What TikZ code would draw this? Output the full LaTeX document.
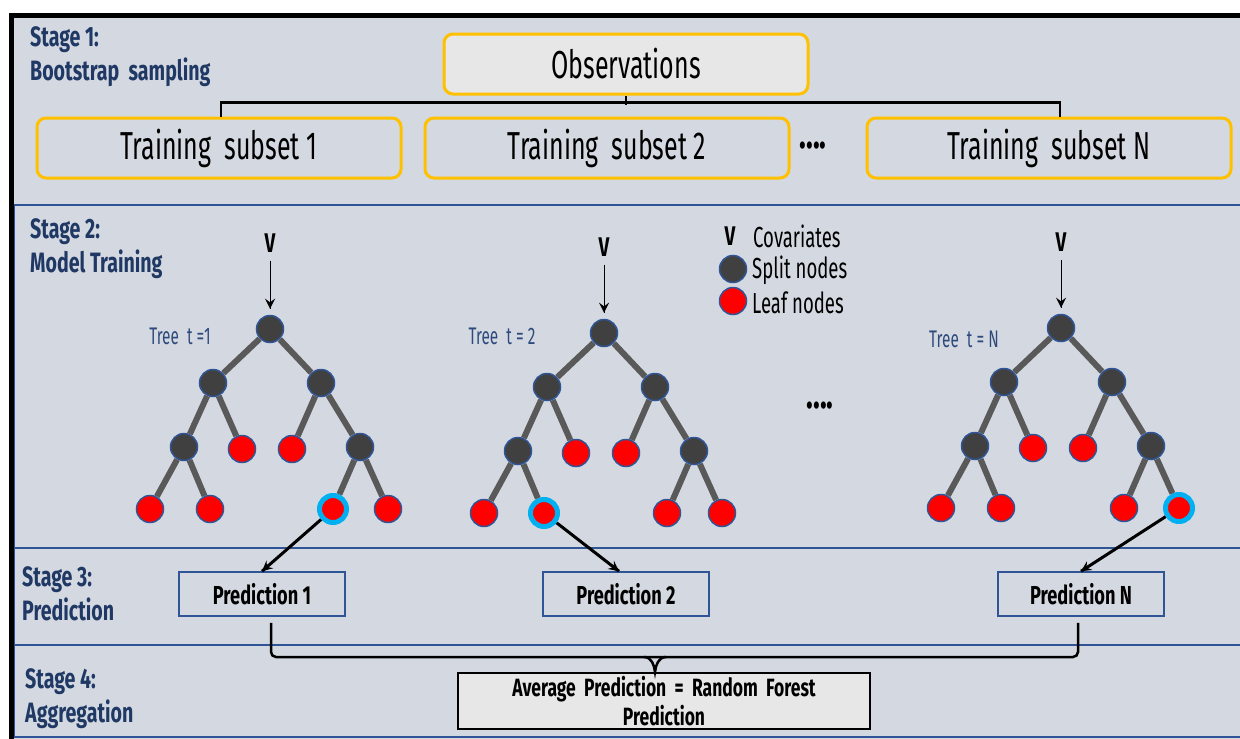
\documentclass[tikz,border=0pt]{standalone}
\usepackage{fontspec}
\setmainfont{Fira Sans}[FakeStretch=0.64,BoldFeatures={FakeStretch=0.7}]
\usepackage{tikz}
\usetikzlibrary{arrows,decorations.markings}
\definecolor{bgblue}{HTML}{D4D9E1}
\definecolor{stagenavy}{HTML}{1F3864}
\definecolor{stageblue}{HTML}{2F5597}
\definecolor{boxorange}{HTML}{FFC000}
\definecolor{obsgrey}{HTML}{E7E7E7}
\definecolor{splitgrey}{HTML}{404040}
\definecolor{edgegrey}{HTML}{595959}
\definecolor{ringcyan}{HTML}{00B0F0}
\definecolor{treenavy}{HTML}{2E4A7D}
\tikzstyle{stagelabel} = [anchor=base west, align=left, inner sep=0pt, text=stagenavy, font=\bfseries\fontsize{28}{34}\selectfont]
\tikzstyle{obsbox} = [rectangle, rounded corners=9pt, minimum width=364pt, minimum height=60pt, draw=boxorange, line width=3pt, fill=obsgrey, font=\fontsize{39}{40}\selectfont]
\tikzstyle{subset} = [obsbox, fill=bgblue]
\tikzstyle{split} = [circle, minimum size=27pt, inner sep=0pt, draw=stageblue, line width=1.5pt, fill=splitgrey]
\tikzstyle{leaf} = [circle, minimum size=27pt, inner sep=0pt, draw=stageblue, line width=1.5pt, fill=red]
\tikzstyle{hleaf} = [leaf, draw=ringcyan, line width=5pt]
\tikzstyle{edge} = [draw=edgegrey, line width=6pt]
\tikzstyle{covar} = [inner sep=0pt, font=\bfseries\fontsize{27}{28}\selectfont]
\tikzstyle{dotsrow} = [inner sep=0pt, font=\bfseries\fontsize{40}{40}\selectfont]
\tikzstyle{legend} = [anchor=west, inner sep=0pt, font=\fontsize{29}{30}\selectfont]
\tikzstyle{treelabel} = [inner sep=0pt, text=treenavy, font=\fontsize{24}{26}\selectfont]
\tikzstyle{predbox} = [rectangle, minimum width=166pt, minimum height=44pt, draw=stageblue, line width=1.5pt, fill=bgblue, font=\bfseries\fontsize{26}{28}\selectfont]
\tikzstyle{avgbox} = [rectangle, minimum width=412pt, minimum height=56pt, text width=400pt, align=center, inner sep=0pt, draw=black, line width=2pt, fill=obsgrey, font=\bfseries\fontsize{25}{29}\selectfont]

% one tree: name, root x, root y, styles of the four lowest leaves
\newcommand{\rftree}[7]{%
  \begin{scope}[shift={(#2,#3)}]
    \node (#1v) [covar] at (0,-86) {V};
    \node (#1r) [split] at (0,0) {};
    \node (#1a) [split] at (-57,54) {};
    \node (#1b) [split] at (51,54) {};
    \node (#1c) [split] at (-86,118) {};
    \node (#1d) [leaf] at (-28,120) {};
    \node (#1e) [leaf] at (22,120) {};
    \node (#1f) [split] at (90,118) {};
    \node (#1g) [#4] at (-120,180) {};
    \node (#1h) [#5] at (-60,180) {};
    \node (#1i) [#6] at (63,180) {};
    \node (#1j) [#7] at (118,180) {};
  \end{scope}
  \draw[edge] (#1r) -- (#1a) (#1r) -- (#1b);
  \draw[edge] (#1a) -- (#1c) (#1a) -- (#1d) (#1b) -- (#1e) (#1b) -- (#1f);
  \draw[edge] (#1c) -- (#1g) (#1c) -- (#1h) (#1f) -- (#1i) (#1f) -- (#1j);
  \draw[vptr, line width=1pt] ([yshift=-8pt]#1v.south) -- ([yshift=6pt]#1r.north);
}

\begin{document}
\begin{tikzpicture}[x=1pt,y=-1pt]
    \tikzset{myptr/.style={decoration={markings,mark=at position 1 with %
    {\arrow[scale=1.1,>=stealth]{>}}},postaction={decorate}}}
    \tikzset{vptr/.style={decoration={markings,mark=at position 1 with %
    {\arrow[scale=2.2,>=stealth]{>}}},postaction={decorate}}}
    \useasboundingbox (0,0) rectangle (1240,739);
    \fill[white] (0,0) rectangle (1240,739);
    \fill[bgblue] (10,14) rectangle (1240,739);
    \draw[stageblue, line width=2.5pt] (14,205) rectangle (1245,548);
    \draw[stageblue, line width=2.5pt] (14,548) rectangle (1245,645);
    \draw[stageblue, line width=2.5pt] (14,645) rectangle (1245,737);
    \draw[black, line width=5pt] (11,739) -- (11,15) -- (1240,15);

    \node (st1) [stagelabel] at (30,80) {Stage 1:\\Bootstrap~~sampling};
    \node (st2) [stagelabel] at (30,272) {Stage 2:\\Model Training};
    \node (st3) [stagelabel] at (22,620) {Stage 3:\\Prediction};
    \node (st4) [stagelabel] at (25,722) {Stage 4:\\Aggregation};

    \node (obs) [obsbox] at (626,64) {Observations};
    \node (sub1) [subset] at (219,148) {Training~~subset 1};
    \node (sub2) [subset] at (607,148) {Training~~subset 2};
    \node (subN) [subset] at (1049,148) {Training~~subset N};
    \node (dots1) [dotsrow] at (813,146) {....};
    \draw[line width=2.5pt] ([xshift=2pt]sub1.north) |- ++(0,-14) -| ([xshift=11pt]subN.north);
    \draw[line width=2.5pt] (obs.south) -- ++(0,9);

    \node (covv) [covar] at (730,236) {V};
    \node (covtxt) [legend] at (753,236) {Covariates};
    \node (legsplit) [split] at (733,269) {};
    \node (splittxt) [legend] at (752,270) {Split nodes};
    \node (legleaf) [leaf] at (733,301) {};
    \node (leaftxt) [legend] at (752,303) {Leaf nodes};

    \rftree{t1}{270}{329}{leaf}{leaf}{hleaf}{leaf}
    \rftree{t2}{604}{333}{leaf}{hleaf}{leaf}{leaf}
    \rftree{tN}{1061}{328}{leaf}{leaf}{leaf}{hleaf}
    \node (lab1) [treelabel] at (180,336) {Tree~~t =1};
    \node (lab2) [treelabel] at (502,336) {Tree~~t = 2};
    \node (labN) [treelabel] at (964,339) {Tree~~t = N};
    \node (dots2) [dotsrow] at (820,406) {....};

    \node (pred1) [predbox] at (262,594) {Prediction 1};
    \node (pred2) [predbox] at (626,594) {Prediction 2};
    \node (predN) [predbox] at (1081,594) {Prediction N};
    \draw[myptr, line width=3pt] (t1i) -- (pred1.north);
    \draw[myptr, line width=3pt] (t2h) -- ([xshift=-7pt]pred2.north);
    \draw[myptr, line width=3pt] (tNj) -- (predN.north);

    \node (avg) [avgbox] at (664,701) {Average Prediction = Random Forest\\Prediction};
    \coordinate (bracejoin) at (655,657);
    \coordinate (bracetip) at (655,672);
    \draw[line width=2.5pt, rounded corners=5pt] ([xshift=9pt,yshift=-6pt]pred1.south) |- (bracejoin) -| ([xshift=-3pt,yshift=-6pt]predN.south);
    \draw[line width=2.5pt] ([xshift=-11pt]bracejoin) to[out=0,in=95] (bracetip) to[out=85,in=180] ([xshift=11pt]bracejoin);
  \end{tikzpicture}
\end{document}
